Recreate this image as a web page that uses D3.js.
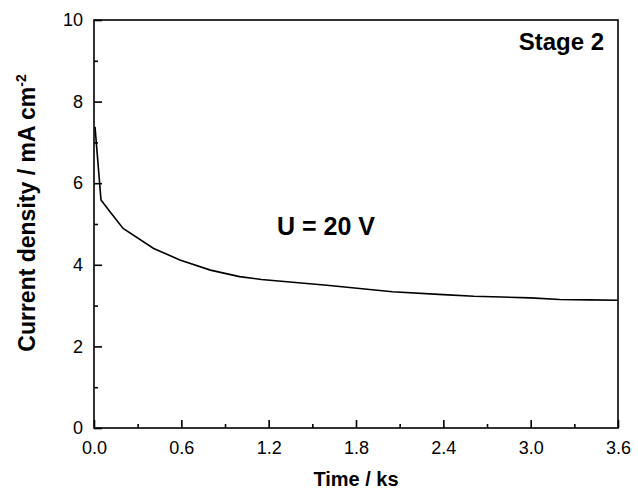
<!DOCTYPE html>
<html>
<head>
<meta charset="utf-8">
<script src="https://cdn.jsdelivr.net/npm/d3@7"></script>
<style>
  body { margin: 0; background: #fff; }
  svg text { font-family: Arial, "Liberation Sans", sans-serif; fill: #000; }
</style>
</head>
<body>
<div id="chart"></div>
<script>
// ----- DATA -----
const timeKs = [0.007, 0.048, 0.11, 0.2, 0.41, 0.59, 0.8, 1.0, 1.15, 1.6, 2.05, 2.4, 2.61, 2.8, 3.0, 3.2, 3.4, 3.6];
const currentDensity = [7.38, 5.59, 5.30, 4.89, 4.40, 4.12, 3.87, 3.71, 3.64, 3.50, 3.34, 3.27, 3.23, 3.21, 3.19, 3.15, 3.14, 3.13];
const xTicks = [0, 0.6, 1.2, 1.8, 2.4, 3.0, 3.6];
const xMinor = [0.3, 0.9, 1.5, 2.1, 2.7, 3.3];
const yTicks = [0, 2, 4, 6, 8, 10];
const yMinor = [1, 3, 5, 7, 9];

const W = 638, H = 494;
const m = {left: 94, right: 20, top: 20, bottom: 66};

const svg = d3.select("#chart").append("svg")
    .attr("width", W).attr("height", H);

const x = d3.scaleLinear().domain([0, 3.6]).range([m.left, W - m.right]);
const y = d3.scaleLinear().domain([0, 10]).range([H - m.bottom, m.top]);

// frame
svg.append("rect")
    .attr("x", x(0)).attr("y", y(10))
    .attr("width", x(3.6) - x(0)).attr("height", y(0) - y(10))
    .attr("fill", "none").attr("stroke", "#000").attr("stroke-width", 1.6);

// x axis (ticks inward)
svg.append("g").attr("transform", `translate(0,${y(0)})`)
    .call(d3.axisBottom(x).tickValues(xTicks).tickSize(-8).tickPadding(13)
        .tickFormat(d3.format(".1f")));
svg.append("g").attr("transform", `translate(0,${y(0)})`)
    .call(d3.axisBottom(x).tickValues(xMinor).tickSize(-4).tickFormat(""));

// y axis
svg.append("g").attr("transform", `translate(${x(0)},0)`)
    .call(d3.axisLeft(y).tickValues(yTicks).tickSize(-8).tickPadding(11)
        .tickFormat(d3.format("d")));
svg.append("g").attr("transform", `translate(${x(0)},0)`)
    .call(d3.axisLeft(y).tickValues(yMinor).tickSize(-4).tickFormat(""));

svg.selectAll(".domain").remove();
svg.selectAll(".tick line").attr("stroke", "#000").attr("stroke-width", 1.6);
svg.selectAll(".tick text").style("font-size", "18px").attr("fill", "#000");

// curve
const line = d3.line().x((d, i) => x(timeKs[i])).y(d => y(d));
svg.append("path")
    .datum(currentDensity)
    .attr("d", line)
    .attr("fill", "none").attr("stroke", "#000").attr("stroke-width", 1.6);

// axis titles
svg.append("text")
    .attr("x", (x(0) + x(3.6)) / 2).attr("y", 486)
    .attr("text-anchor", "middle")
    .style("font-size", "20px").style("font-weight", "bold")
    .text("Time / ks");

const yt = svg.append("text")
    .attr("transform", "translate(35,213) rotate(-90)")
    .attr("text-anchor", "middle")
    .style("font-size", "23px").style("font-weight", "bold");
yt.append("tspan").text("Current density / mA cm");
yt.append("tspan").attr("dy", -9).style("font-size", "14px").text("-2");

// annotations
svg.append("text")
    .attr("x", 604).attr("y", 50)
    .attr("text-anchor", "end")
    .style("font-size", "24px").style("font-weight", "bold")
    .text("Stage 2");

svg.append("text")
    .attr("x", 277).attr("y", 235)
    .style("font-size", "25px").style("font-weight", "bold")
    .text("U = 20 V");
</script>
</body>
</html>
